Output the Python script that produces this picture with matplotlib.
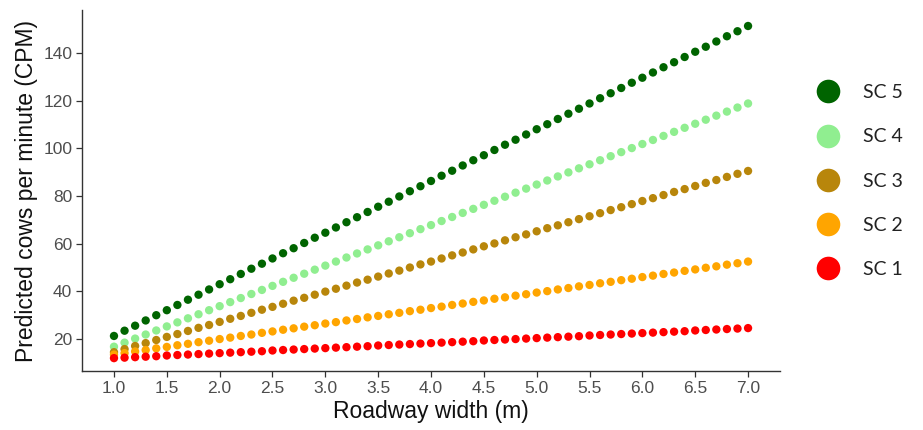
import numpy as np
import matplotlib
matplotlib.use("Agg")
import matplotlib.pyplot as plt
from matplotlib.lines import Line2D

# roadway width, 1.0 .. 7.0 m in steps of 0.1
width = np.round(np.linspace(1.0, 7.0, 61), 1)

sc5 = [21.3, 23.5, 25.6, 27.8, 30.0, 32.1, 34.3, 36.5, 38.6, 40.8,
       43.0, 45.1, 47.3, 49.5, 51.6, 53.8, 56.0, 58.1, 60.3, 62.5,
       64.6, 66.8, 69.0, 71.1, 73.3, 75.5, 77.6, 79.8, 82.0, 84.1,
       86.3, 88.5, 90.6, 92.8, 95.0, 97.1, 99.3, 101.5, 103.6, 105.8,
       108.0, 110.1, 112.3, 114.5, 116.6, 118.8, 121.0, 123.1, 125.3, 127.5,
       129.6, 131.8, 134.0, 136.1, 138.3, 140.5, 142.6, 144.8, 147.0, 149.1,
       151.3]
sc4 = [16.8, 18.5, 20.2, 21.9, 23.6, 25.3, 27.0, 28.7, 30.4, 32.1,
       33.8, 35.5, 37.2, 38.9, 40.6, 42.3, 44.0, 45.7, 47.4, 49.1,
       50.8, 52.5, 54.2, 55.9, 57.6, 59.3, 61.0, 62.7, 64.4, 66.1,
       67.8, 69.5, 71.2, 72.9, 74.6, 76.3, 78.0, 79.7, 81.4, 83.1,
       84.8, 86.5, 88.2, 89.9, 91.6, 93.3, 95.0, 96.7, 98.4, 100.1,
       101.8, 103.5, 105.2, 106.9, 108.6, 110.3, 112.0, 113.7, 115.4, 117.1,
       118.8]
sc3 = [14.5, 15.8, 17.1, 18.3, 19.6, 20.9, 22.1, 23.4, 24.7, 25.9,
       27.2, 28.5, 29.7, 31.0, 32.3, 33.5, 34.8, 36.1, 37.3, 38.6,
       39.9, 41.1, 42.4, 43.7, 44.9, 46.2, 47.5, 48.7, 50.0, 51.3,
       52.5, 53.8, 55.1, 56.3, 57.6, 58.9, 60.1, 61.4, 62.7, 63.9,
       65.2, 66.5, 67.7, 69.0, 70.3, 71.5, 72.8, 74.1, 75.3, 76.6,
       77.9, 79.1, 80.4, 81.7, 82.9, 84.2, 85.5, 86.7, 88.0, 89.3,
       90.5]
sc2 = [13.5, 14.1, 14.8, 15.4, 16.1, 16.7, 17.4, 18.0, 18.7, 19.3,
       20.0, 20.6, 21.3, 21.9, 22.6, 23.2, 23.9, 24.5, 25.2, 25.8,
       26.5, 27.1, 27.8, 28.4, 29.1, 29.7, 30.4, 31.0, 31.7, 32.3,
       33.0, 33.6, 34.3, 34.9, 35.6, 36.2, 36.9, 37.5, 38.2, 38.8,
       39.5, 40.1, 40.8, 41.4, 42.1, 42.7, 43.4, 44.0, 44.7, 45.3,
       46.0, 46.6, 47.3, 47.9, 48.6, 49.2, 49.9, 50.5, 51.2, 51.8,
       52.5]
sc1 = [12.0, 12.2, 12.4, 12.6, 12.8, 13.1, 13.3, 13.5, 13.7, 13.9,
       14.1, 14.3, 14.5, 14.7, 14.9, 15.2, 15.4, 15.6, 15.8, 16.0,
       16.2, 16.4, 16.6, 16.8, 17.0, 17.3, 17.5, 17.7, 17.9, 18.1,
       18.3, 18.5, 18.7, 18.9, 19.1, 19.4, 19.6, 19.8, 20.0, 20.2,
       20.4, 20.6, 20.8, 21.0, 21.2, 21.5, 21.7, 21.9, 22.1, 22.3,
       22.5, 22.7, 22.9, 23.1, 23.3, 23.6, 23.8, 24.0, 24.2, 24.4,
       24.6]

labels = ["SC 5", "SC 4", "SC 3", "SC 2", "SC 1"]
colors = ["#006400", "#90EE90", "#B8860B", "#FFA500", "#FF0000"]
series = [sc5, sc4, sc3, sc2, sc1]

x_ticks = [1.0, 1.5, 2.0, 2.5, 3.0, 3.5, 4.0, 4.5, 5.0, 5.5, 6.0, 6.5, 7.0]
y_ticks = [20, 40, 60, 80, 100, 120, 140]

plt.rcParams['font.family'] = ['Liberation Sans', 'DejaVu Sans']

fig = plt.figure(figsize=(9.23, 4.30), dpi=100)
ax = fig.add_axes([0.0888, 0.1372, 0.756, 0.8395])

for vals, col in zip(series, colors):
    ax.scatter(width, vals, s=36, color=col, edgecolors='none', zorder=3)

ax.set_xlim(0.697, 7.30)
ax.set_ylim(6.6, 158.0)
ax.set_xticks(x_ticks)
ax.set_xticklabels([f"{t:.1f}" for t in x_ticks])
ax.set_yticks(y_ticks)

for side in ['top', 'right']:
    ax.spines[side].set_visible(False)
for side in ['left', 'bottom']:
    ax.spines[side].set_color('#333333')
    ax.spines[side].set_linewidth(1.0)

ax.tick_params(axis='both', colors='#333333', labelcolor='#4D4D4D',
               labelsize=12.5, length=4, width=0.9, pad=3)

ax.set_xlabel("Roadway width (m)", fontsize=16.5, color='#111111', labelpad=3)
ax.set_ylabel("Predicted cows per minute (CPM)", fontsize=16.5, color='#111111', labelpad=4)

handles = [Line2D([], [], linestyle='none', marker='o', markersize=17,
                  markerfacecolor=c, markeredgecolor='none') for c in colors]
fig.legend(handles, labels, loc='upper left', bbox_to_anchor=(0.866, 0.845),
           frameon=False, prop={'family': ['Lato', 'DejaVu Sans'], 'size': 14},
           labelspacing=1.4, handletextpad=1.2, handlelength=1.2,
           labelcolor='#222222')

fig.savefig("out.png", dpi=100)
